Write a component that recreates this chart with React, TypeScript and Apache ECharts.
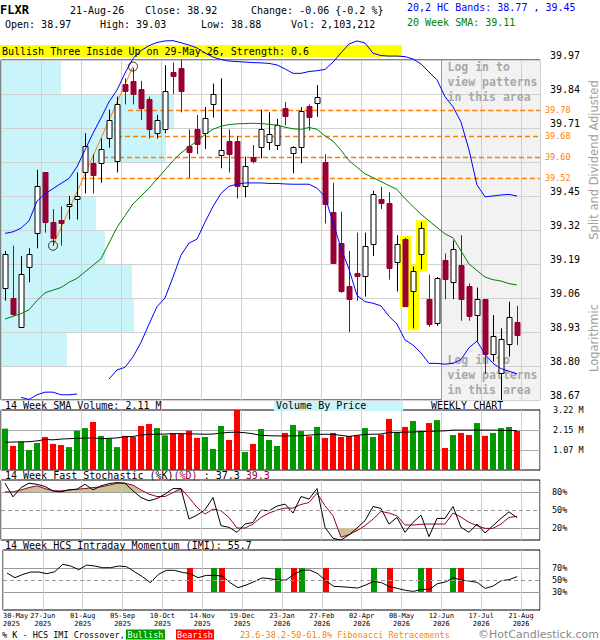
import React, { useEffect, useRef } from "react";
import * as echarts from "echarts";

const MONO = '"DejaVu Sans Mono", "Liberation Mono", monospace';
const SANS = '"DejaVu Sans", "Liberation Sans", sans-serif';

// ---------------- data ----------------
const dateLabels = [
  "30-May\n2025", "27-Jun\n2025", "01-Aug\n2025", "05-Sep\n2025", "10-Oct\n2025",
  "14-Nov\n2025", "19-Dec\n2025", "23-Jan\n2026", "27-Feb\n2026", "02-Apr\n2026",
  "08-May\n2026", "12-Jun\n2026", "17-Jul\n2026", "21-Aug\n2026",
];

const opens = [
  39.10, 39.06, 38.95, 39.18, 39.31, 39.54, 39.35, 39.36, 39.41, 39.44,
  39.54, 39.575, 39.575, 39.67, 39.585, 39.88, 39.89, 39.86, 39.82, 39.69,
  39.705, 39.925, 39.94, 39.64, 39.705, 39.69, 39.80, 39.607, 39.66, 39.66,
  39.49, 39.60, 39.636, 39.655, 39.645, 39.785, 39.613, 39.636, 39.794, 39.804,
  39.58, 39.39, 39.27, 39.105, 39.157, 39.144, 39.265, 39.44, 39.425, 39.196,
  39.285, 39.088, 39.227, 39.055, 38.963, 39.205, 39.122, 39.186, 39.106, 38.995,
  39.056, 38.845, 38.772, 38.883, 38.97,
];
const closes = [
  39.23, 39.00, 39.15, 39.23, 39.49, 39.35, 39.29, 39.345, 39.42, 39.45,
  39.64, 39.53, 39.63, 39.74, 39.80, 39.85, 39.84, 39.785, 39.705, 39.74,
  39.85, 39.91, 39.85, 39.62, 39.65, 39.75, 39.84, 39.626, 39.61, 39.49,
  39.565, 39.585, 39.705, 39.686, 39.72, 39.756, 39.636, 39.776, 39.753, 39.83,
  39.42, 39.195, 39.085, 39.055, 39.145, 39.26, 39.458, 39.425, 39.175, 39.265,
  39.03, 39.164, 39.326, 38.96, 39.135, 39.133, 39.246, 39.055, 38.99, 39.056,
  38.846, 38.915, 38.902, 38.986, 38.92,
];
const highs = [
  39.24, 39.26, 39.22, 39.25, 39.55, 39.54, 39.40, 39.41, 39.45, 39.54,
  39.69, 39.61, 39.67, 39.78, 39.83, 39.90, 39.94, 39.89, 39.83, 39.76,
  39.95, 39.96, 39.97, 39.705, 39.76, 39.79, 39.88, 39.90, 39.705, 39.68,
  39.60, 39.645, 39.78, 39.77, 39.745, 39.81, 39.64, 39.79, 39.80, 39.874,
  39.61, 39.50, 39.39, 39.24, 39.31, 39.31, 39.47, 39.485, 39.465, 39.30,
  39.29, 39.18, 39.35, 39.15, 39.14, 39.23, 39.28, 39.30, 39.116, 39.10,
  39.056, 38.995, 38.944, 39.046, 39.03,
];
const lows = [
  39.05, 38.99, 38.95, 39.12, 39.25, 39.31, 39.26, 39.26, 39.36, 39.36,
  39.46, 39.46, 39.50, 39.635, 39.54, 39.80, 39.80, 39.74, 39.67, 39.67,
  39.69, 39.84, 39.77, 39.52, 39.61, 39.63, 39.75, 39.556, 39.54, 39.44,
  39.445, 39.575, 39.594, 39.626, 39.626, 39.72, 39.537, 39.575, 39.70, 39.753,
  39.345, 39.19, 39.08, 38.93, 39.05, 39.065, 39.22, 39.40, 39.13, 39.085,
  39.03, 38.944, 39.17, 38.95, 38.953, 39.055, 39.055, 38.973, 38.973, 38.893,
  38.77, 38.816, 38.67, 38.836, 38.88,
];
// weekly volume, millions
const volumes = [
  2.22, 1.29, 1.52, 1.07, 1.45, 1.77, 1.40, 1.34, 1.23, 2.11,
  2.25, 2.58, 1.83, 1.70, 1.23, 1.83, 1.77, 2.36, 2.47, 2.25,
  1.86, 1.97, 1.93, 2.11, 1.72, 1.77, 1.13, 2.36, 1.61, 3.22,
  0.97, 1.40, 2.20, 1.61, 1.29, 1.99, 2.42, 2.09, 1.81, 2.31,
  1.72, 1.99, 1.77, 1.83, 1.86, 2.25, 1.77, 1.90, 2.74, 2.04,
  2.31, 2.63, 2.09, 2.52, 2.68, 1.18, 1.88, 1.99, 1.88, 2.52,
  1.83, 1.99, 2.25, 2.31, 2.10,
];
const volumeSma = [
  1.49, 1.50, 1.51, 1.52, 1.56, 1.64, 1.62, 1.66, 1.68, 1.70,
  1.71, 1.72, 1.68, 1.70, 1.72, 1.79, 1.80, 1.88, 1.91, 1.92,
  1.93, 1.95, 1.95, 1.94, 1.93, 1.92, 1.93, 1.98, 2.02, 2.03,
  2.00, 1.94, 1.86, 1.84, 1.83, 1.83, 1.83, 1.84, 1.87, 1.91,
  1.92, 1.91, 1.86, 1.80, 1.86, 1.91, 1.92, 1.93, 2.02, 2.02,
  2.03, 2.04, 2.06, 2.07, 2.09, 2.10, 2.14, 2.14, 2.14, 2.14,
  2.14, 2.14, 2.13, 2.12, 2.11,
];
const sma20 = [
  38.98, 38.99, 39.00, 39.015, 39.05, 39.08, 39.09, 39.10, 39.12, 39.135,
  39.16, 39.185, 39.21, 39.27, 39.33, 39.375, 39.42, 39.45, 39.48, 39.515,
  39.55, 39.585, 39.615, 39.638, 39.66, 39.685, 39.705, 39.717, 39.723, 39.726,
  39.727, 39.728, 39.727, 39.724, 39.721, 39.713, 39.707, 39.705, 39.712, 39.705,
  39.68, 39.66, 39.625, 39.585, 39.56, 39.535, 39.52, 39.505, 39.49, 39.475,
  39.44, 39.41, 39.38, 39.355, 39.33, 39.305, 39.29, 39.24, 39.19, 39.165,
  39.14, 39.13, 39.125, 39.115, 39.11,
];
const upperBand = [
  39.307, 39.313, 39.327, 39.355, 39.43, 39.458, 39.478, 39.498, 39.517, 39.562,
  39.626, 39.69, 39.748, 39.81, 39.855, 39.92, 39.976, 40.006, 40.025, 40.037,
  40.043, 40.044, 40.036, 40.027, 40.016, 39.997, 39.981, 39.972, 39.966, 39.964,
  39.962, 39.96, 39.959, 39.957, 39.951, 39.936, 39.919, 39.919, 39.926, 39.929,
  39.934, 39.962, 39.997, 40.031, 40.043, 40.035, 39.996, 39.987, 39.985, 39.985,
  39.983, 39.974, 39.955, 39.924, 39.894, 39.83, 39.791, 39.733, 39.626, 39.492,
  39.447, 39.45, 39.454, 39.456, 39.45,
];
const lowerBand = [
  null, null, 38.68, 38.672, 38.69, 38.70, 38.70, 38.69, 38.69, 38.693,
  null, null, null, 38.75, 38.785, 38.795, 38.835, 38.89, 38.96, 39.027,
  39.06, 39.14, 39.224, 39.27, 39.285, 39.35, 39.41, 39.46, 39.487, 39.495,
  39.50, 39.50, 39.50, 39.498, 39.498, 39.496, 39.495, 39.495, 39.495, 39.48,
  39.447, 39.35, 39.25, 39.17, 39.07, 39.046, 39.04, 39.03, 38.99, 38.96,
  38.90, 38.88, 38.85, 38.81, 38.81, 38.807, 38.81, 38.825, 38.87, 38.895,
  38.845, 38.81, 38.79, 38.78, 38.77,
];
const stochK = [
  94.6, 71.9, 87.4, 94.6, 92.9, 89.1, 81.9, 80.2, 83.5, 84.6,
  92.9, 83.5, 90.2, 94.0, 95.7, 94.6, 81.9, 70.8, 65.3, 69.2,
  76.4, 85.7, 85.7, 34.9, 41.5, 50.4, 70.8, 23.9, 21.1, 12.8,
  26.6, 29.4, 49.8, 48.7, 56.5, 59.8, 44.9, 72.5, 68.1, 85.7,
  21.1, 2.9, 0, 8.4, 20, 32.2, 55.9, 52.6, 26.6, 37.6,
  12.8, 29.4, 41.5, 5.6, 36, 36, 55.9, 21.1, 12.8, 26.6,
  11.7, 23.9, 36, 47, 37.3,
];
const stochD = [
  80.2, 80.2, 83.5, 87.4, 90.2, 85.7, 81.9, 81.9, 83.5, 84.6,
  85.7, 87.4, 88.5, 91.3, 94.6, 94.6, 91.3, 83.5, 76.4, 72.5,
  72.5, 79.1, 85.7, 70.8, 54.3, 43.2, 51.5, 48.7, 37.6, 20,
  20, 26.6, 37.6, 44.9, 49.8, 53.1, 53.1, 59.2, 62.5, 78,
  57, 40.4, 4.5, 9, 15.6, 23.9, 34.9, 47.6, 44.9, 40.4,
  25, 25, 26.1, 26.6, 26.6, 26.6, 44.9, 38.2, 29.4, 23.9,
  19.4, 19.4, 26.6, 37.7, 39.3,
];
const imi = [
  61.6, 53.8, 59.4, 63.3, 63.3, 60.5, 63.8, 76.1, 73.3, 67.2,
  74.9, 73.3, 70.5, 70.5, 73.3, 72.2, 63.8, 55.5, 45.5, 59.4,
  66.1, 66.1, 62.7, 60.5, 53.8, 57.7, 57.7, 56.6, 45.5, 37.2,
  41.6, 47.2, 53.5, 52.2, 49.9, 49.9, 59.4, 66.1, 66.6, 60.5,
  48.8, 39.4, 38.8, 37.7, 36.6, 41.6, 47.7, 45.5, 38.8, 36,
  32.7, 31, 34.4, 34.4, 43.8, 46.6, 53.8, 49.9, 48.3, 46,
  36, 40, 48.8, 50.5, 55.7,
];
const imiBullish = [26, 34, 37, 46, 52, 56];
const imiBearish = [23, 27, 36, 40, 48, 53, 57];

const priceTicks = [38.67, 38.80, 38.93, 39.06, 39.19, 39.32, 39.45, 39.58, 39.71, 39.84, 39.97];
const priceLabels = [38.67, 38.80, 38.93, 39.06, 39.19, 39.32, 39.45, 39.71, 39.84, 39.97];
const volumeTicks = [1.07, 2.15];
const volumeLabels = [1.07, 2.15, 3.22];
const volumeMax = 3.22;
const stochLines = [20, 80];
const stochLabels = [20, 50, 80];
const imiLines = [30, 70];
const imiLabels = [30, 50, 70];

// volume by price, one value per price row (bottom row first), relative units
const vbpVolume = [0, 66, 133, 131, 104, 95, 78, 165, 173, 60];
const vbpScaleMax = 539;

const fibLevels = [39.78, 39.68, 39.60, 39.52];
const fibStartWeek = [15.9, 14.5, 12.75, 10.1];
const fibAnchors = [[6, 39.26], [16, 39.945]]; // [candle index, price]
const patternCandles = [50, 51, 52];
const lockedFromWeek = 55;

// ---------------- layout ----------------
const X_MAX = 67.375;
const GRID_LEFT = 1;
const GRID_W = 539;

function buildOption(): any {
  const pMin = priceTicks[0];
  const pMax = priceTicks[priceTicks.length - 1];
  const idx = (i: number) => i + 0.5;

  const gridBase = { left: GRID_LEFT, width: GRID_W, show: true, borderColor: "#000", borderWidth: 1, backgroundColor: "transparent" };
  const grids = [
    { ...gridBase, top: 60, height: 340 },
    { ...gridBase, top: 410, height: 60 },
    { ...gridBase, top: 480, height: 60 },
    { ...gridBase, top: 550, height: 60 },
  ];

  const xAx = (g: number, labels: boolean) => ({
    type: "value", gridIndex: g, min: 0, max: X_MAX, interval: 5, z: 1,
    axisLine: { show: false }, axisTick: { show: false },
    splitLine: { show: true, lineStyle: { color: "#d0d0d0", width: 1 } },
    axisLabel: labels
      ? {
          show: true, margin: 1.5, fontFamily: MONO, fontSize: 7, lineHeight: 8, color: "#000",
          alignMinLabel: "left",
          customValues: dateLabels.map((_, k) => k * 5),
          formatter: (v: number) => {
            const k = Math.round(v / 5);
            return Math.abs(v - k * 5) < 1e-6 && k < dateLabels.length ? dateLabels[k] : "";
          },
        }
      : { show: false },
  });

  const smallLabel = { fontFamily: MONO, fontSize: 8.5, color: "#000" };

  const yAxes = [
    {
      type: "value", gridIndex: 0, position: "right", min: pMin, max: pMax, z: 1,
      axisLine: { show: false },
      axisTick: { show: false, customValues: priceTicks },
      splitLine: { show: true, lineStyle: { color: "#d0d0d0" } },
      axisLabel: {
        customValues: priceLabels, margin: 10, fontFamily: MONO, fontSize: 10, color: "#000",
        verticalAlign: "bottom", lineHeight: 10,
        formatter: (v: number) => v.toFixed(2),
      },
    },
    {
      type: "value", gridIndex: 1, position: "right", min: 0, max: volumeMax, z: 1,
      axisLine: { show: false },
      axisTick: { show: false, customValues: volumeTicks },
      splitLine: { show: true, lineStyle: { color: "#aaaaaa" } },
      axisLabel: { ...smallLabel, customValues: volumeLabels, margin: 13, formatter: (v: number) => v.toFixed(2) + " M" },
    },
    {
      type: "value", gridIndex: 2, position: "right", min: 0, max: 100, z: 1,
      axisLine: { show: false },
      axisTick: { show: false, customValues: stochLines },
      splitLine: { show: true, lineStyle: { color: "#999999" } },
      axisLabel: { ...smallLabel, customValues: stochLabels, margin: 12, formatter: (v: number) => v + "%" },
    },
    {
      type: "value", gridIndex: 3, position: "right", min: 0, max: 100, z: 1,
      axisLine: { show: false },
      axisTick: { show: false, customValues: imiLines },
      splitLine: { show: true, lineStyle: { color: "#999999" } },
      axisLabel: { ...smallLabel, customValues: imiLabels, margin: 12, formatter: (v: number) => v + "%" },
    },
  ];

  const xAxes = [
    xAx(0, false), xAx(1, false), xAx(2, false), xAx(3, true),
    { type: "value", gridIndex: 0, min: 0, max: vbpScaleMax, show: false },
  ];

  const dashed50 = {
    silent: true, symbol: "none", label: { show: false },
    lineStyle: { color: "#999", type: [4, 3], width: 1 },
    data: [{ yAxis: 50 }],
  };

  const series: any[] = [
    // volume by price
    {
      type: "custom", xAxisIndex: 4, yAxisIndex: 0, z: 0, silent: true,
      data: vbpVolume.map((v, k) => [v, priceTicks[k], priceTicks[k + 1]]),
      renderItem: (_p: any, api: any) => {
        const a = api.coord([0, api.value(2)]);
        const b = api.coord([api.value(0), api.value(1)]);
        return { type: "rect", shape: { x: a[0], y: a[1], width: b[0] - a[0], height: b[1] - a[1] }, style: { fill: "#c8f4fa" } };
      },
    },
    // locked area shading
    {
      type: "custom", xAxisIndex: 0, yAxisIndex: 0, z: 0, silent: true,
      data: [[lockedFromWeek]],
      renderItem: (_p: any, api: any) => {
        const a = api.coord([api.value(0), pMax]);
        const b = api.coord([X_MAX, pMin]);
        return { type: "rect", shape: { x: a[0], y: a[1], width: b[0] - a[0], height: b[1] - a[1] }, style: { fill: "#f2f2f2" } };
      },
    },
    // locked area border and texts
    {
      type: "custom", xAxisIndex: 0, yAxisIndex: 0, z: 1.5, silent: true,
      data: [[lockedFromWeek]],
      renderItem: (_p: any, api: any) => {
        const a = api.coord([api.value(0), pMax]);
        const b = api.coord([X_MAX, pMin]);
        const x = Math.round(a[0]) + 0.5;
        const txt = "Log in to\nview patterns\nin this area";
        const ts = { fill: "#a8a8a8", fontFamily: MONO, fontSize: 11.5, fontWeight: "bold", lineHeight: 15, verticalAlign: "top", align: "left" };
        return {
          type: "group",
          children: [
            { type: "line", shape: { x1: x, y1: a[1], x2: x, y2: b[1] }, style: { stroke: "#999", lineWidth: 1 } },
            { type: "text", x: x + 6, y: a[1] - 1, style: { ...ts, text: txt } },
            { type: "text", x: x + 6, y: b[1] - 48, style: { ...ts, text: txt } },
          ],
        };
      },
    },
    // fibonacci levels
    {
      type: "custom", xAxisIndex: 0, yAxisIndex: 0, z: 1.6, silent: true,
      data: fibLevels.map((lv, k) => [fibStartWeek[k], lv]),
      renderItem: (_p: any, api: any) => {
        const lv = api.value(1);
        const a = api.coord([api.value(0), lv]);
        const b = api.coord([X_MAX, lv]);
        const y = Math.round(a[1]) + 0.5;
        return {
          type: "group",
          children: [
            { type: "line", shape: { x1: a[0], y1: y, x2: b[0], y2: y }, style: { stroke: "#ff8000", lineWidth: 1.5, lineDash: [5, 3] } },
            { type: "text", x: b[0] + 5, y: y - 1, style: { text: lv.toFixed(2), fill: "#ff8000", fontFamily: MONO, fontSize: 8.5, verticalAlign: "middle", align: "left" } },
          ],
        };
      },
    },
    // trend line between fib anchors
    {
      type: "line", xAxisIndex: 0, yAxisIndex: 0, z: 1.7, symbol: "none", silent: true,
      data: fibAnchors.map((a) => [idx(a[0]), a[1]]),
      lineStyle: { color: "#ff8000", width: 1 },
    },
    // pattern highlight
    {
      type: "custom", xAxisIndex: 0, yAxisIndex: 0, z: 1.8, silent: true,
      data: patternCandles.map((i) => [idx(i), lows[i], highs[i]]),
      renderItem: (_p: any, api: any) => {
        const lo = api.coord([api.value(0), api.value(1)]);
        const hi = api.coord([api.value(0), api.value(2)]);
        const cx = Math.round(lo[0]) + 0.5;
        return { type: "rect", shape: { x: cx - 5.5, y: hi[1] - 2, width: 11, height: lo[1] - hi[1] + 4 }, style: { fill: "#ffff00" } };
      },
    },
    // candles
    {
      type: "custom", xAxisIndex: 0, yAxisIndex: 0, z: 2, silent: true,
      data: opens.map((o, i) => [idx(i), o, closes[i], lows[i], highs[i]]),
      renderItem: (_p: any, api: any) => {
        const x = api.value(0);
        const o = api.value(1), c = api.value(2), l = api.value(3), h = api.value(4);
        const pO = api.coord([x, o]), pC = api.coord([x, c]), pL = api.coord([x, l]), pH = api.coord([x, h]);
        const cx = Math.round(pO[0]) + 0.5;
        const up = c >= o;
        const col = up ? "#000" : "#990033";
        const top = Math.round(Math.min(pO[1], pC[1])) + 0.5;
        const bot = Math.round(Math.max(pO[1], pC[1])) + 0.5;
        return {
          type: "group",
          children: [
            { type: "line", shape: { x1: cx, y1: pH[1], x2: cx, y2: pL[1] }, style: { stroke: col, lineWidth: 1 } },
            { type: "rect", shape: { x: cx - 2.5, y: top, width: 5, height: Math.max(bot - top, 1) }, style: { fill: up ? "#fff" : "#990033", stroke: col, lineWidth: 1 } },
          ],
        };
      },
    },
    // 20 week SMA
    {
      type: "line", xAxisIndex: 0, yAxisIndex: 0, z: 3, symbol: "none", silent: true,
      data: sma20.map((v, i) => [idx(i), v]),
      lineStyle: { color: "#008000", width: 1 },
    },
    // HC bands
    {
      type: "line", xAxisIndex: 0, yAxisIndex: 0, z: 3, symbol: "none", silent: true, clip: false,
      data: upperBand.map((v, i) => [idx(i), v]),
      lineStyle: { color: "#0000ff", width: 1 },
    },
    {
      type: "line", xAxisIndex: 0, yAxisIndex: 0, z: 3, symbol: "none", silent: true, connectNulls: false,
      data: lowerBand.map((v, i) => [idx(i), v === null ? "-" : v]),
      lineStyle: { color: "#0000ff", width: 1 },
    },
    // fib anchor circles
    {
      type: "scatter", xAxisIndex: 0, yAxisIndex: 0, z: 4, silent: true,
      symbol: "circle", symbolSize: 9,
      itemStyle: { color: "rgba(0,0,0,0)", borderColor: "#000", borderWidth: 1 },
      data: fibAnchors.map((a) => [idx(a[0]), a[1]]),
    },
    // volume bars
    {
      type: "custom", xAxisIndex: 1, yAxisIndex: 1, z: 2, silent: true,
      data: volumes.map((v, i) => [idx(i), v, closes[i] >= opens[i] ? 1 : 0]),
      renderItem: (_p: any, api: any) => {
        const t = api.coord([api.value(0), api.value(1)]);
        const b = api.coord([api.value(0), 0]);
        const x = Math.round(t[0]) - 3;
        return { type: "rect", shape: { x, y: t[1], width: 6, height: b[1] - t[1] }, style: { fill: api.value(2) ? "#009900" : "#ff0000" } };
      },
    },
    {
      type: "line", xAxisIndex: 1, yAxisIndex: 1, z: 3, symbol: "none", silent: true,
      data: volumeSma.map((v, i) => [idx(i), v]),
      lineStyle: { color: "#000", width: 1 },
    },
    // stochastic fill
    {
      type: "custom", xAxisIndex: 2, yAxisIndex: 2, z: 1.5, silent: true,
      data: stochD.slice(0, -1).map((d, i) => [idx(i), d, stochD[i + 1]]),
      renderItem: (_p: any, api: any) => {
        const x0 = api.value(0), d0 = api.value(1), d1 = api.value(2);
        const x1 = x0 + 1;
        const children: any[] = [];
        const zone = (level: number, above: boolean) => {
          const in0 = above ? d0 > level : d0 < level;
          const in1 = above ? d1 > level : d1 < level;
          if (!in0 && !in1) return;
          let pts: number[][];
          if (in0 && in1) pts = [[x0, level], [x0, d0], [x1, d1], [x1, level]];
          else {
            const xc = x0 + (level - d0) / (d1 - d0);
            pts = in0 ? [[x0, level], [x0, d0], [xc, level]] : [[xc, level], [x1, d1], [x1, level]];
          }
          children.push({ type: "polygon", shape: { points: pts.map((p) => api.coord(p)) }, style: { fill: "#c8c296" } });
        };
        zone(80, true);
        zone(20, false);
        return { type: "group", children };
      },
    },
    {
      type: "line", xAxisIndex: 2, yAxisIndex: 2, z: 3, symbol: "none", silent: true,
      data: stochD.map((v, i) => [idx(i), v]),
      lineStyle: { color: "#990033", width: 1 },
      markLine: dashed50,
    },
    {
      type: "line", xAxisIndex: 2, yAxisIndex: 2, z: 3, symbol: "none", silent: true,
      data: stochK.map((v, i) => [idx(i), v]),
      lineStyle: { color: "#000", width: 1 },
    },
    // IMI crossover markers
    {
      type: "custom", xAxisIndex: 3, yAxisIndex: 3, z: 2, silent: true,
      data: [...imiBullish.map((i) => [idx(i), 1]), ...imiBearish.map((i) => [idx(i), 0])],
      renderItem: (_p: any, api: any) => {
        const t = api.coord([api.value(0), imiLines[1]]);
        const b = api.coord([api.value(0), imiLines[0]]);
        const x = Math.round(t[0]) - 3;
        return { type: "rect", shape: { x, y: t[1], width: 6, height: b[1] - t[1] }, style: { fill: api.value(1) ? "#009900" : "#ff0000" } };
      },
    },
    {
      type: "line", xAxisIndex: 3, yAxisIndex: 3, z: 3, symbol: "none", silent: true,
      data: imi.map((v, i) => [idx(i), v]),
      lineStyle: { color: "#000", width: 1 },
      markLine: dashed50,
    },
  ];

  const t = (text: string, x: number, y: number, extra: any = {}) => ({
    type: "text", x, y, silent: true,
    style: { text, fill: "#000", fontFamily: MONO, fontSize: 10, verticalAlign: "middle", align: "left", ...extra },
  });

  const graphic = [
    t("FLXR", 0, 10, { fontWeight: "bold", fontSize: 12 }),
    t("21-Aug-26", 70, 10),
    t("Close: 38.92", 145, 10),
    t("Change: -0.06 {-0.2 %}", 251, 10),
    t("Open: 38.97", 5, 24),
    t("High: 39.03", 100, 24),
    t("Low: 38.88", 201, 24),
    t("Vol: 2,103,212", 291, 24),
    t("20,2 HC Bands: 38.77 , 39.45", 407, 7, { fill: "#0000ff" }),
    t("20 Week SMA: 39.11", 407, 22, { fill: "#008000" }),
    { type: "rect", shape: { x: 0, y: 45, width: 402, height: 12 }, style: { fill: "#ffff00" }, silent: true },
    t("Bullish Three Inside Up on 29-May-26, Strength: 0.6", 2, 51),
    t("14 Week SMA Volume: 2.11 M", 5, 405.5),
    { type: "rect", shape: { x: 274, y: 400, width: 129, height: 11 }, style: { fill: "#c8f4fa" }, silent: true },
    t("Volume By Price", 276, 405.5),
    t("WEEKLY CHART", 431, 405.5),
    t("14 Week Fast Stochastic (%K){r|(%D)} : 37.3 {r|39.3}", 5, 475.5, {
      rich: { r: { fill: "#990033", fontFamily: MONO, fontSize: 10 } },
    }),
    t("14 Week HCS Intraday Momentum (IMI): 55.7", 5, 545.5),
    {
      type: "text", x: 594, y: 160, rotation: Math.PI / 2, silent: true,
      style: { text: "Split and Dividend Adjusted", fill: "#a0a0a0", fontFamily: SANS, fontSize: 11.5, align: "center", verticalAlign: "middle" },
    },
    {
      type: "text", x: 594, y: 338, rotation: Math.PI / 2, silent: true,
      style: { text: "Logarithmic", fill: "#a0a0a0", fontFamily: SANS, fontSize: 11.5, align: "center", verticalAlign: "middle" },
    },
    t("% K - HCS IMI Crossover,", 2, 635, { fontSize: 8.5 }),
    { type: "rect", shape: { x: 126, y: 629.5, width: 39, height: 10 }, style: { fill: "#009900" }, silent: true },
    t("Bullish", 145.5, 634.5, { fontSize: 8.5, fill: "#fff", align: "center" }),
    { type: "rect", shape: { x: 176, y: 629.5, width: 38, height: 10 }, style: { fill: "#ff0000" }, silent: true },
    t("Bearish", 195, 634.5, { fontSize: 8.5, fill: "#fff", align: "center" }),
    t("23.6-38.2-50-61.8% Fibonacci Retracements", 240, 635, { fontSize: 8.5, fill: "#ff8000" }),
    t("\u00A9HotCandlestick.com", 599, 634, { fontFamily: SANS, fontSize: 11, lineHeight: 11, fill: "#888", align: "right" }),
  ];

  return {
    animation: false,
    backgroundColor: "#fff",
    grid: grids,
    xAxis: xAxes,
    yAxis: yAxes,
    series,
    graphic,
  };
}

export default function App() {
  const ref = useRef<HTMLDivElement>(null);
  useEffect(() => {
    if (!ref.current) return;
    const chart = echarts.init(ref.current, null, { renderer: "svg" });
    chart.setOption(buildOption());
    return () => chart.dispose();
  }, []);
  return (
    <div
      ref={ref}
      style={{ position: "absolute", left: 0, top: 0, width: 600, height: 640, background: "#fff" }}
    />
  );
}
